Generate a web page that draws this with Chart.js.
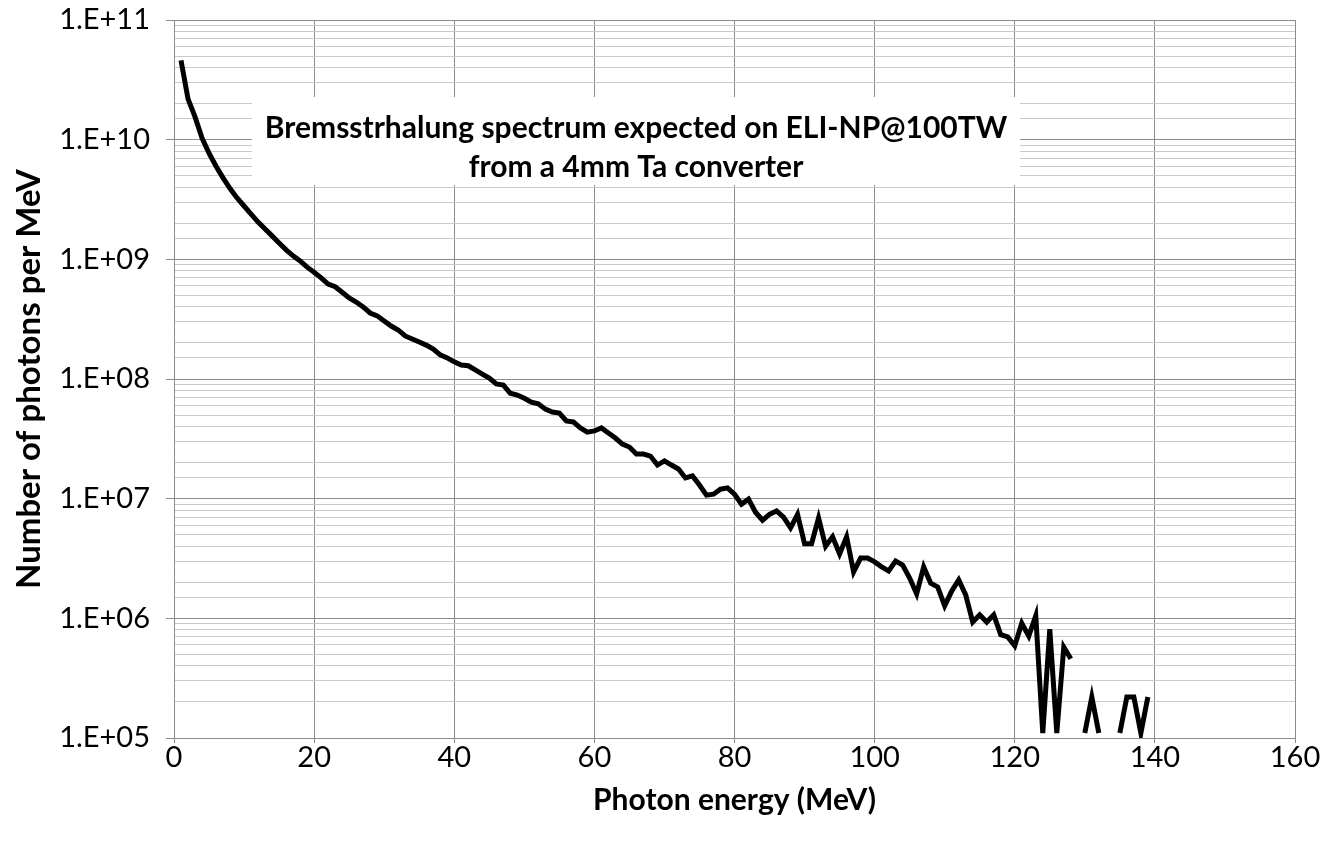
<!DOCTYPE html>
<html>
<head>
<meta charset="utf-8">
<script src="https://cdn.jsdelivr.net/npm/chart.js@4.4.0/dist/chart.umd.min.js"></script>
<style>
  html, body { margin: 0; padding: 0; background: #fff; }
  #wrap { width: 1323px; height: 844px; }
</style>
</head>
<body>
<div id="wrap"><canvas id="chart" width="1323" height="844"></canvas></div>
<script>
// photon energy (MeV)
const energies = [
  1, 2, 3, 4, 5, 6, 7, 8, 9, 10, 11, 12, 13, 14, 15, 16, 17, 18, 19, 20,
  21, 22, 23, 24, 25, 26, 27, 28, 29, 30, 31, 32, 33, 34, 35, 36, 37, 38, 39, 40,
  41, 42, 43, 44, 45, 46, 47, 48, 49, 50, 51, 52, 53, 54, 55, 56, 57, 58, 59, 60,
  61, 62, 63, 64, 65, 66, 67, 68, 69, 70, 71, 72, 73, 74, 75, 76, 77, 78, 79, 80,
  81, 82, 83, 84, 85, 86, 87, 88, 89, 90, 91, 92, 93, 94, 95, 96, 97, 98, 99, 100,
  101, 102, 103, 104, 105, 106, 107, 108, 109, 110, 111, 112, 113, 114, 115, 116, 117, 118, 119, 120,
  121, 122, 123, 124, 125, 126, 127, 128, 129, 130, 131, 132, 133, 134, 135, 136, 137, 138, 139
];

// number of photons per MeV (null = no photons, gap in the curve)
const photons = [
  4.6e10, 2.19e10, 1.55e10, 1.03e10, 7.7e9, 6.0e9, 4.8e9, 3.9e9, 3.26e9, 2.79e9,
  2.39e9, 2.05e9, 1.79e9, 1.57e9, 1.37e9, 1.20e9, 1.07e9, 9.7e8, 8.6e8, 7.8e8,
  7.0e8, 6.2e8, 5.9e8, 5.3e8, 4.75e8, 4.4e8, 4.0e8, 3.56e8, 3.37e8, 3.05e8,
  2.77e8, 2.57e8, 2.29e8, 2.16e8, 2.04e8, 1.92e8, 1.78e8, 1.59e8, 1.50e8, 1.39e8,
  1.31e8, 1.29e8, 1.19e8, 1.10e8, 1.02e8, 9.1e7, 8.9e7, 7.6e7, 7.35e7, 6.9e7,
  6.4e7, 6.2e7, 5.6e7, 5.3e7, 5.2e7, 4.46e7, 4.38e7, 3.9e7, 3.6e7, 3.68e7,
  3.9e7, 3.54e7, 3.21e7, 2.86e7, 2.70e7, 2.36e7, 2.36e7, 2.27e7, 1.91e7, 2.07e7,
  1.91e7, 1.77e7, 1.49e7, 1.55e7, 1.30e7, 1.07e7, 1.09e7, 1.20e7, 1.23e7, 1.09e7,
  9.0e6, 9.9e6, 7.7e6, 6.6e6, 7.4e6, 7.9e6, 7.0e6, 5.7e6, 7.4e6, 4.2e6,
  4.2e6, 6.9e6, 4.0e6, 4.8e6, 3.45e6, 4.8e6, 2.44e6, 3.19e6, 3.19e6, 2.96e6,
  2.69e6, 2.49e6, 3.01e6, 2.79e6, 2.17e6, 1.60e6, 2.69e6, 1.97e6, 1.83e6, 1.27e6,
  1.69e6, 2.09e6, 1.57e6, 9.3e5, 1.07e6, 9.3e5, 1.07e6, 7.3e5, 7.0e5, 5.9e5,
  9.1e5, 7.1e5, 1.05e6, 1.1e5, 8.1e5, 1.1e5, 5.75e5, 4.6e5, null, 1.1e5,
  2.2e5, 1.1e5, null, null, 1.1e5, 2.2e5, 2.2e5, 1.1e5, 2.2e5
];

const xTicks = [0, 20, 40, 60, 80, 100, 120, 140, 160];

const titleLines = [
  'Bremsstrhalung spectrum expected on ELI-NP@100TW',
  'from a 4mm Ta converter'
];

const FONT = 'Lato, "Open Sans", sans-serif';

const isDecade = v => Math.abs(Math.log10(v) - Math.round(Math.log10(v))) < 1e-6;

// white box with the chart title, drawn over the grid inside the plot area
const titleBox = {
  id: 'titleBox',
  beforeDatasetsDraw(chart) {
    const { ctx, chartArea } = chart;
    const x0 = chartArea.left + 78, x1 = chartArea.left + 846;
    const y0 = chartArea.top + 77, y1 = chartArea.top + 165;
    ctx.save();
    ctx.fillStyle = '#ffffff';
    ctx.fillRect(x0, y0, x1 - x0, y1 - y0);
    ctx.fillStyle = '#000';
    ctx.font = 'bold 30px ' + FONT;
    ctx.textAlign = 'center';
    ctx.textBaseline = 'middle';
    const cx = (x0 + x1) / 2;
    ctx.fillText(titleLines[0], cx, chartArea.top + 108);
    ctx.fillText(titleLines[1], cx, chartArea.top + 147);
    ctx.restore();
  }
};

new Chart(document.getElementById('chart'), {
  type: 'line',
  data: {
    datasets: [{
      data: energies.map((e, i) => ({ x: e, y: photons[i] })),
      borderColor: '#000',
      borderWidth: 5,
      pointRadius: 0,
      tension: 0,
      spanGaps: false,
      fill: false
    }]
  },
  options: {
    responsive: false,
    animation: false,
    layout: { padding: { top: 20, right: 28, left: 0, bottom: 0 } },
    plugins: { legend: { display: false }, tooltip: { enabled: false } },
    scales: {
      x: {
        type: 'linear',
        min: 0,
        max: 160,
        afterBuildTicks: s => { s.ticks = xTicks.map(v => ({ value: v })); },
        afterFit: s => { s.height = 106; s.paddingLeft = 0; s.paddingRight = 0; },
        grid: { color: '#8c8c8c', lineWidth: 1, tickLength: 5 },
        border: { color: '#8c8c8c' },
        ticks: { color: '#000', font: { family: FONT, size: 29, lineHeight: 1 }, padding: 0, maxRotation: 0 },
        title: {
          display: true,
          text: 'Photon energy (MeV)',
          color: '#000',
          font: { family: FONT, size: 30, weight: 'bold' },
          padding: { top: 0, bottom: 26 }
        }
      },
      y: {
        type: 'logarithmic',
        min: 1e5,
        max: 1e11,
        afterFit: s => { s.width = 174; s.paddingTop = 0; s.paddingBottom = 0; },
        grid: {
          color: c => (c.tick && isDecade(c.tick.value)) ? '#8c8c8c' : '#c9c9c9',
          tickColor: c => (c.tick && isDecade(c.tick.value)) ? '#8c8c8c' : 'rgba(0,0,0,0)',
          lineWidth: 1,
          tickLength: 8
        },
        border: { color: '#8c8c8c' },
        ticks: {
          color: '#000',
          font: { family: FONT, size: 29, lineHeight: 1 },
          padding: 16,
          autoSkip: false,
          callback: v => isDecade(v) ? '1.E+' + String(Math.round(Math.log10(v))).padStart(2, '0') : ''
        },
        title: {
          display: true,
          text: 'Number of photons per MeV',
          color: '#000',
          font: { family: FONT, size: 33, weight: 'bold' },
          padding: { top: 10, bottom: 0 }
        }
      }
    }
  },
  plugins: [titleBox]
});
</script>
</body>
</html>
